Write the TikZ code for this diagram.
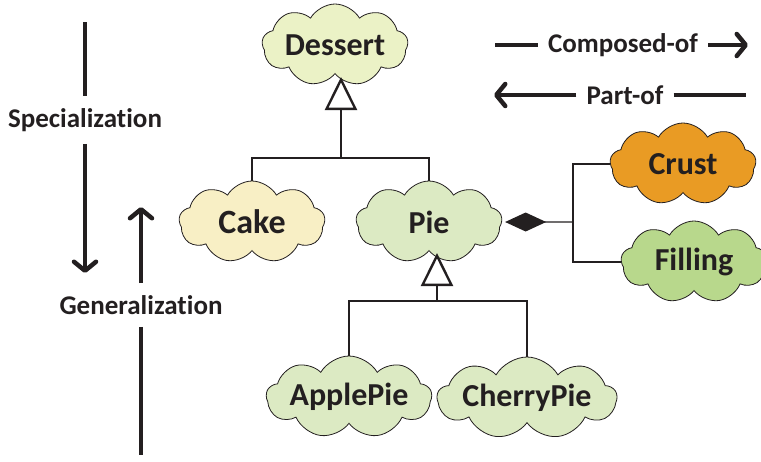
\documentclass[tikz,border=0pt]{standalone}
\usepackage{fontspec}
\setmainfont{Carlito}[Ligatures={NoCommon,NoRequired,NoContextual}]
\usetikzlibrary{shapes.symbols,arrows.meta}
\definecolor{cDessert}{HTML}{EBF2C6}
\definecolor{cCake}{HTML}{F8EFC5}
\definecolor{cPie}{HTML}{DCEAC3}
\definecolor{cCrust}{HTML}{E99B24}
\definecolor{cFill}{HTML}{B8D88C}
\definecolor{ink}{HTML}{231F20}
\tikzset{
  blob/.style={cloud, cloud puffs=9, cloud puff arc=120, cloud ignores aspect,
    draw=ink, line width=0.8pt, minimum width=146pt, minimum height=82pt,
    inner sep=0pt, font=\fontsize{32}{34}\selectfont\bfseries, text=ink},
  conn/.style={draw=ink, line width=1.4pt},
  gen/.style={draw=ink, line width=1.4pt, -{Triangle[open, length=33pt, width=32pt, line width=2.4pt]}},
  comp/.style={draw=ink, line width=1.4pt, -{Diamond[length=41pt, width=19pt]}},
  big/.style={draw=ink, line width=4.5pt},
  bigarrow/.style={draw=ink, line width=4.5pt, -{Straight Barb[length=9pt, width=22pt, round]}},
  lbl/.style={font=\fontsize{27}{29}\selectfont\bfseries, text=ink, inner sep=0pt}
}
\begin{document}
\begin{tikzpicture}[x=1pt, y=-1pt]
\useasboundingbox (0,0) rectangle (761,461);
% clouds
\node[blob, fill=cDessert] (dessert) at (335,45) {Dessert};
\node[blob, fill=cCake, font=\fontsize{34}{36}\selectfont\bfseries] (cake) at (252,222) {Cake};
\node[blob, fill=cPie] (pie) at (429,222) {Pie};
\node[blob, fill=cCrust] (crust) at (683,164) {Crust};
\node[blob, fill=cFill] (filling) at (694,262) {Filling};
\node[blob, fill=cPie] (apple) at (349,397) {ApplePie};
\node[blob, fill=cPie] (cherry) at (527,398) {CherryPie};
% generalization hierarchy
\coordinate (j1) at (341,158);
\draw[conn] (cake.north) |- (j1) -| (pie.north);
\draw[gen] (j1) -- ([yshift=-32pt]j1 |- dessert.center);
\coordinate (j2) at (437,301);
\draw[conn] (apple.north) |- (j2) -| (cherry.north);
\draw[gen] (j2) -- ([yshift=-31pt]j2 |- pie.center);
% composition
\coordinate (j3) at (573,222);
\draw[conn] (crust.west) -| (j3) |- (filling.west);
\draw[comp] (j3) -- ([xshift=3pt]pie.east);
% legend
\node[lbl] (composed) at (623,45) {Composed-of};
\coordinate (c0) at (495,45);
\coordinate (c1) at (748,45);
\draw[big] (c0) -- ([xshift=-10pt]composed.west);
\draw[bigarrow] ([xshift=10pt]composed.east) -- (c1);
\node[lbl] (partof) at (625,95) {Part-of};
\coordinate (p0) at (494,95);
\coordinate (p1) at (746,95);
\draw[bigarrow] ([xshift=-10pt]partof.west) -- (p0);
\draw[big] ([xshift=10pt]partof.east) -- (p1);
% specialization / generalization
\node[lbl] (spec) at (85,120) {Specialization};
\coordinate (s0) at (85,22);
\coordinate (s1) at (85,273);
\draw[big] (s0) -- ([yshift=12pt]spec.north);
\draw[bigarrow] ([yshift=-12pt]spec.south) -- (s1);
\node[lbl] (genl) at (141,305) {Generalization};
\coordinate (g0) at (141,207);
\coordinate (g1) at (141,455);
\draw[bigarrow] ([yshift=12pt]genl.north) -- (g0);
\draw[big] ([yshift=-12pt]genl.south) -- (g1);
\end{tikzpicture}
\end{document}
